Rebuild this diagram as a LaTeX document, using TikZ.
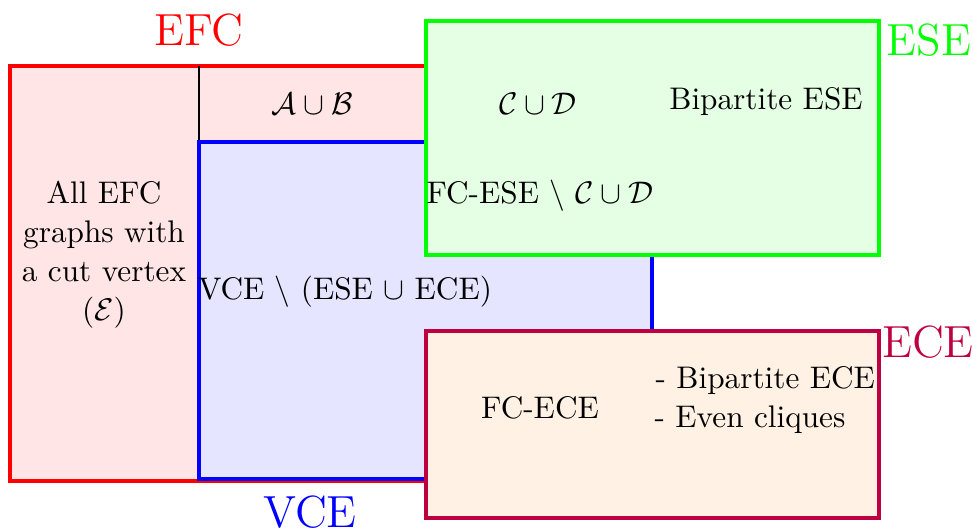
\documentclass[tikz,border=0pt]{standalone}
\usepackage{amsmath,amssymb}
\begin{document}
\begin{tikzpicture}[x=0.32pt,y=-0.32pt,
  setbox/.style={line width=1.35pt},
  lbl/.style={font=\Large},
  txt/.style={inner sep=0pt}]
\useasboundingbox (0,0) rectangle (973,528);
% EFC
\draw[setbox,draw=red,fill=red!10] (10,66) rectangle (652,481);
\coordinate (lt) at (199,66);
\coordinate (lb) at (199,142);
\draw[line width=0.6pt] (lt) -- (lb);
% VCE
\draw[setbox,draw=blue,fill=blue!10] (199,142) rectangle (652,479);
% ESE
\draw[setbox,draw=green,fill=green!10] (426,21) rectangle (879,255);
% ECE
\draw[setbox,draw=purple,fill=orange!10] (426,331) rectangle (879,518);

\node[lbl,text=red] (efc) at (199,30) {EFC};
\node[lbl,text=green] (ese) at (929,40) {ESE};
\node[lbl,text=purple] (ece) at (928,342) {ECE};
\node[lbl,text=blue] (vce) at (310,512) {VCE};

\node (ab) at (312,104) {$\mathcal{A}\cup\mathcal{B}$};
\node (cd) at (538,104) {$\mathcal{C}\cup\mathcal{D}$};
\node (bese) at (766,102) {Bipartite ESE};
\node (fcese) at (540,196) {FC-ESE $\setminus$ $\mathcal{C}\cup\mathcal{D}$};
\node (vrest) at (345,292) {VCE $\setminus$ (ESE $\cup$ ECE)};
\node[align=center,font=\fontsize{10}{12.5}\selectfont] (cut) at (104,255) {All EFC\\graphs with\\a cut vertex\\($\mathcal{E}$)};
\node (fcece) at (540,408) {FC-ECE};
\node[anchor=west,inner sep=0pt] (bece) at (655,381) {- Bipartite ECE};
\node[anchor=west,inner sep=0pt] (even) at (654,420) {- Even cliques};
\end{tikzpicture}
\end{document}
